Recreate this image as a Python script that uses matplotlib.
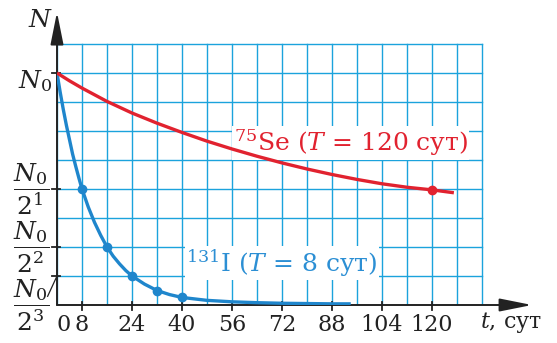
import numpy as np
import matplotlib
matplotlib.use("Agg")
import matplotlib.pyplot as plt

plt.rcParams['font.family'] = ['DejaVu Serif']
plt.rcParams['mathtext.fontset'] = 'dejavuserif'

# ---- data (N in units of N0/2^3) ----
t_I = [0, 1, 2, 3, 4, 5, 6, 7, 8, 10, 12, 14, 16, 18, 20, 22, 24, 28, 32, 36, 40,
       48, 56, 64, 72, 80, 88, 94]
N_I = [8, 7.35, 6.75, 6.2, 5.7, 5.2, 4.78, 4.38, 4.0, 3.38, 2.85, 2.4, 2.0, 1.68, 1.42,
       1.19, 1.0, 0.72, 0.5, 0.36, 0.26, 0.16, 0.11, 0.08, 0.06, 0.05, 0.04, 0.04]
t_Se = [0, 4, 8, 16, 24, 32, 40, 48, 56, 64, 72, 80, 88, 96, 104, 112, 120, 127]
N_Se = [8, 7.73, 7.48, 7.02, 6.62, 6.27, 5.95, 5.65, 5.38, 5.13, 4.90, 4.69, 4.50,
        4.33, 4.18, 4.06, 3.97, 3.87]
I_marker_t = [8, 16, 24, 32, 40]
I_marker_N = [4, 2, 1, 0.5, 0.26]
Se_marker_t = [120]
Se_marker_N = [3.97]
x_tick_vals = [0, 8, 24, 40, 56, 72, 88, 104, 120]
x_tick_labels = ['0', '8', '24', '40', '56', '72', '88', '104', '120']
y_tick_vals = [8, 4, 2, 0]
y_tick_labels = [r'$N_0$', r'$\dfrac{N_0}{2^1}$', r'$\dfrac{N_0}{2^2}$', r'$\dfrac{N_0}{2^3}$']
grid_x = list(range(0, 137, 8))
grid_y = list(range(1, 10))

GRID = '#1ba3dc'
RED = '#e1222f'
BLUE = '#1f86cc'
BLUE_TXT = '#2c8fd4'
DARK = '#222222'

fig = plt.figure(figsize=(5.57, 3.43), dpi=100)
ax = fig.add_axes([57/557, 38/343, 475/557, 290/343])
ax.set_xlim(0, 152)
ax.set_ylim(0, 10)
ax.axis('off')

# grid
for gx in grid_x:
    ax.plot([gx, gx], [0, max(grid_y)], color=GRID, lw=1.0, zorder=1)
for gy in grid_y:
    ax.plot([0, max(grid_x)], [gy, gy], color=GRID, lw=1.0, zorder=1)

# axes with arrows
ax.annotate('', xy=(152, 0), xytext=(0, 0),
            arrowprops=dict(arrowstyle='-|>,head_length=1.1,head_width=0.22',
                            color=DARK, lw=1.4, mutation_scale=18, shrinkA=0, shrinkB=0),
            zorder=4, annotation_clip=False)
ax.annotate('', xy=(0, 10.1), xytext=(0, 0),
            arrowprops=dict(arrowstyle='-|>,head_length=1.1,head_width=0.22',
                            color=DARK, lw=1.4, mutation_scale=18, shrinkA=0, shrinkB=0),
            zorder=4, annotation_clip=False)

# tick marks
for xv in x_tick_vals[1:]:
    ax.plot([xv, xv], [-0.17, 0.12], color=DARK, lw=1.3, zorder=4, clip_on=False)
for yv in y_tick_vals[:-1] + [1]:
    ax.plot([-1.6, 0.8], [yv, yv], color=DARK, lw=1.3, zorder=4, clip_on=False)

# x tick labels
for xv, lab in zip(x_tick_vals, x_tick_labels):
    xpos = xv + (2.2 if xv == 0 else 0)
    ax.text(xpos, -0.7, lab, ha='center', va='center', fontsize=16, color=DARK, clip_on=False)

# y tick labels
ax.text(-1.4, 7.72, y_tick_labels[0], ha='right', va='center', fontsize=18, color=DARK, clip_on=False)
for yv, lab in zip(y_tick_vals[1:], y_tick_labels[1:]):
    ax.text(-2.4, yv, lab, ha='right', va='center', fontsize=18, color=DARK, clip_on=False)
ax.plot([-3.0, 0], [0.3, 1.0], color=DARK, lw=0.9, clip_on=False, zorder=4)

# axis labels
ax.text(-5.2, 9.8, r'$N$', ha='center', va='center', fontsize=18, color=DARK, clip_on=False)
ax.text(135.5, -0.62, r'$t$, сут', ha='left', va='center', fontsize=16, color=DARK, clip_on=False)

# curves
ax.plot(t_I, N_I, color=BLUE, lw=2.4, zorder=5, solid_capstyle='butt', solid_joinstyle='round')
ax.plot(t_Se, N_Se, color=RED, lw=2.4, zorder=5, solid_capstyle='butt', solid_joinstyle='round')
ax.plot(I_marker_t, I_marker_N, 'o', color=BLUE, ms=6, zorder=6)
ax.plot(Se_marker_t, Se_marker_N, 'o', color=RED, ms=6, zorder=6)

# labels
ax.text(94, 5.59, r'$^{75}$Se ($T$ = 120 сут)', ha='center', va='center', fontsize=18,
        color=RED, zorder=3, bbox=dict(fc='white', ec='none', pad=1.0))
ax.text(72, 1.45, r'$^{131}$I ($T$ = 8 сут)', ha='center', va='center', fontsize=18,
        color=BLUE_TXT, zorder=3, bbox=dict(fc='white', ec='none', pad=1.0))

fig.savefig('out.png', dpi=100)
